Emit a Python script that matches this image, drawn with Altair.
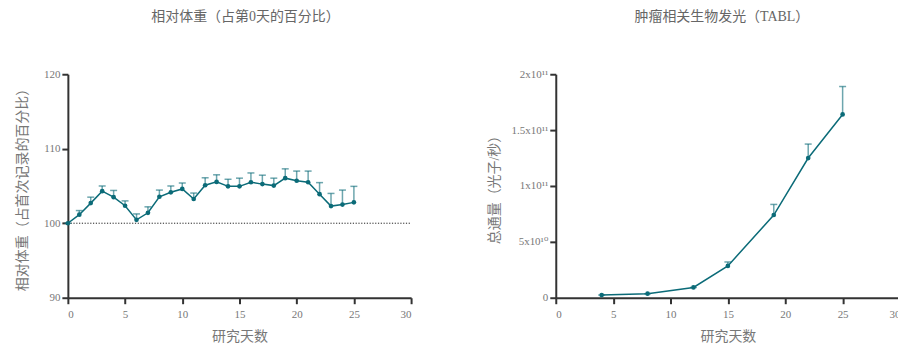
import altair as alt
import pandas as pd

# ---- Left panel data: relative body weight ----
days_w = list(range(0, 26))
weight = [100, 101.15, 102.7, 104.3, 103.5, 102.35, 100.45, 101.4, 103.55, 104.15,
          104.6, 103.25, 105.1, 105.55, 104.95, 104.95, 105.5, 105.25, 105.05, 106.05,
          105.7, 105.5, 103.9, 102.3, 102.5, 102.8]
err_w = [0, 0.55, 0.8, 0.7, 0.9, 0.65, 0.8, 0.8, 0.9, 0.85,
         0.8, 0.8, 1.0, 0.95, 0.95, 1.1, 1.25, 1.2, 1.0, 1.25,
         1.3, 1.5, 1.55, 1.7, 1.95, 2.15]
ref_level = [100]
w_ticks = [90, 100, 110, 120]

# ---- Right panel data: tumor bioluminescence ----
days_b = [4, 8, 12, 15, 19, 22, 25]
flux = [2.4e9, 3.6e9, 9.2e9, 2.85e10, 7.4e10, 1.25e11, 1.64e11]
err_b = [0, 0, 0, 3.5e9, 9.5e9, 1.25e10, 2.5e10]
b_ticks = [0, 5e10, 1e11, 1.5e11, 2e11]
b_tick_labels = ["0", "5x10¹⁰", "1x10¹¹", "1.5x10¹¹", "2x10¹¹"]

x_ticks = [0, 5, 10, 15, 20, 25, 30]

COLOR = "#0b6b78"
FONT = "'Liberation Serif', 'DejaVu Serif', 'Noto Sans CJK SC', serif"

dfw = pd.DataFrame({"day": days_w, "w": weight,
                    "wu": [a + b for a, b in zip(weight, err_w)]})
dfr = pd.DataFrame({"x0": [0], "x1": [30], "y": ref_level})
dfb = pd.DataFrame({"day": days_b, "f": flux,
                    "fu": [a + b for a, b in zip(flux, err_b)]})

W, H = 344, 224

xw = alt.X("day:Q", scale=alt.Scale(domain=[0, 30], nice=False),
           axis=alt.Axis(values=x_ticks, title="研究天数", titlePadding=10))
yw = alt.Y("w:Q", scale=alt.Scale(domain=[90, 120], nice=False),
           axis=alt.Axis(values=w_ticks, title="相对体重（占首次记录的百分比）", titlePadding=14))

base_w = alt.Chart(dfw)
ref = alt.Chart(dfr).mark_rule(color="#222", strokeDash=[1.2, 1.6], strokeWidth=1).encode(
    x=alt.X("x0:Q"), x2="x1:Q", y=alt.Y("y:Q"))
err_rule_w = base_w.mark_rule(color=COLOR, opacity=0.6, strokeWidth=1.5).encode(
    x=xw, y=yw, y2="wu:Q")
err_cap_w = base_w.mark_tick(color=COLOR, opacity=0.6, orient="horizontal", size=7, thickness=1.5).encode(
    x="day:Q", y=alt.Y("wu:Q"))
line_w = base_w.mark_line(color=COLOR, strokeWidth=1.5).encode(x="day:Q", y="w:Q")
pts_w = base_w.mark_circle(color=COLOR, size=22, opacity=1).encode(x="day:Q", y="w:Q")

left = alt.layer(err_rule_w, ref, err_cap_w, line_w, pts_w).properties(
    width=W, height=H,
    title=alt.TitleParams("相对体重（占第0天的百分比）", fontSize=14, color="#666",
                          font=FONT, fontWeight="normal", offset=44, dx=6))

label_expr = " : ".join(
    f"datum.value == {v} ? '{s}'" for v, s in zip(b_ticks, b_tick_labels)) + " : ''"

xb = alt.X("day:Q", scale=alt.Scale(domain=[0, 30], nice=False),
           axis=alt.Axis(values=x_ticks, title="研究天数", titlePadding=10))
yb = alt.Y("f:Q", scale=alt.Scale(domain=[0, 2e11], nice=False),
           axis=alt.Axis(values=b_ticks, labelExpr=label_expr,
                         title="总通量（光子/秒）", titlePadding=10))

base_b = alt.Chart(dfb)
err_rule_b = base_b.mark_rule(color=COLOR, opacity=0.6, strokeWidth=1.5).encode(
    x=xb, y=yb, y2="fu:Q")
err_cap_b = base_b.mark_tick(color=COLOR, opacity=0.6, orient="horizontal", size=7, thickness=1.5).encode(
    x="day:Q", y=alt.Y("fu:Q"))
line_b = base_b.mark_line(color=COLOR, strokeWidth=1.5).encode(x="day:Q", y="f:Q")
pts_b = base_b.mark_circle(color=COLOR, size=22, opacity=1).encode(x="day:Q", y="f:Q")

right = alt.layer(err_rule_b, err_cap_b, line_b, pts_b).properties(
    width=345, height=H,
    title=alt.TitleParams("肿瘤相关生物发光（TABL）", fontSize=14, color="#666",
                          font=FONT, fontWeight="normal", offset=44, dx=-6))

chart = alt.hconcat(left, right, spacing=75).resolve_scale(x="independent", y="independent").properties(
    padding={"left": 7, "top": 2, "right": -3, "bottom": 0}
).configure_view(stroke=None).configure_axis(
    grid=False, domainColor="#333", domainWidth=2, tickColor="#333", tickWidth=2,
    tickSize=6, labelColor="#777", labelFont=FONT, labelFontSize=11, labelPadding=2,
    titleColor="#777", titleFont=FONT, titleFontSize=14, titleFontWeight="normal"
).configure_axisX(labelPadding=5)

chart.save("out.html", embed_options={"renderer": "svg", "actions": False})
